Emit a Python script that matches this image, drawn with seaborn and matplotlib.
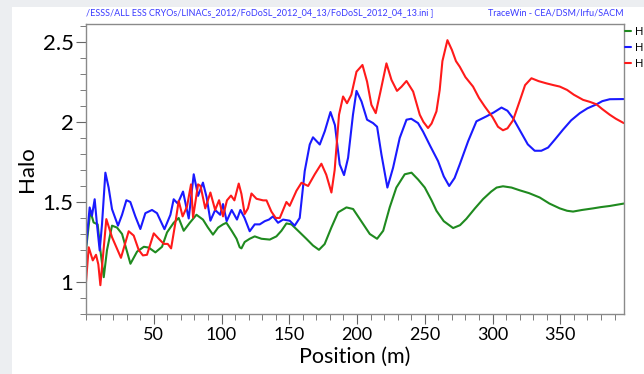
import numpy as np
import pandas as pd
import seaborn as sns
import matplotlib
matplotlib.use("Agg")
import matplotlib.pyplot as plt
from matplotlib.patches import Rectangle
from matplotlib.ticker import MultipleLocator

# ---- data ----
blue_x = [0, 2.7, 4.4, 6.4, 8.1, 10.1, 11.8, 14.3, 16.7, 19.2, 23.6, 26.6, 29.8, 32.7, 36.4,
          40.1, 43.8, 48.7, 52.4, 57.9, 62.3, 64.7, 67.7, 71.6, 75.8, 79.5, 82.7, 86.3, 89,
          91.8, 95.3, 99, 101.1, 103.8, 107.5, 111.4, 113.9, 117, 120.8, 124.5, 128.2, 131.9,
          135, 138, 141.7, 145.4, 150.3, 154, 157.7, 161.4, 165.1, 167.5, 172.5, 176.2, 180.4,
          183.7, 187.2, 190.4, 193.4, 197, 199.6, 203.3, 207.4, 211.8, 214.8, 218, 222.4,
          226.6, 231.5, 236.5, 240, 245, 248.7, 254, 259.8, 264, 268, 272, 275.8, 282, 288.1,
          295.5, 301, 306.6, 311, 315.1, 320, 326, 331.1, 336, 341, 346, 352, 358, 364.4, 370,
          376.7, 381, 386.5, 396.7]
blue_y = [1.22, 1.466, 1.414, 1.517, 1.36, 1.197, 1.36, 1.683, 1.59, 1.455, 1.352, 1.42, 1.511,
          1.50, 1.41, 1.331, 1.43, 1.45, 1.43, 1.33, 1.42, 1.517, 1.49, 1.565, 1.397, 1.673,
          1.538, 1.621, 1.53, 1.383, 1.45, 1.42, 1.487, 1.38, 1.45, 1.39, 1.45, 1.40, 1.317,
          1.36, 1.36, 1.38, 1.39, 1.41, 1.37, 1.39, 1.383, 1.352, 1.40, 1.693, 1.859, 1.904,
          1.859, 1.942, 2.062, 1.98, 1.735, 1.668, 1.776, 2.045, 2.194, 2.128, 2.014, 1.993,
          1.97, 1.797, 1.59, 1.714, 1.90, 2.014, 2.02, 1.993, 1.94, 1.85, 1.755, 1.66, 1.60,
          1.65, 1.735, 1.88, 2.004, 2.035, 2.06, 2.09, 2.07, 2.024, 1.95, 1.86, 1.82, 1.82,
          1.84, 1.89, 1.952, 2.01, 2.055, 2.085, 2.11, 2.13, 2.142, 2.143]

red_x = [0, 2, 5, 7.4, 9.1, 10.6, 15, 19.2, 25.8, 31.5, 35.2, 38.9, 42, 45, 50, 53.7, 57.4,
         60.3, 62.8, 66, 68.4, 71.3, 74.5, 77.5, 79, 82.7, 84.5, 88, 91.8, 95.3, 98.2, 101.1,
         104, 107, 109.5, 112.7, 114.7, 117.1, 119.5, 122.1, 125.8, 130.7, 133.2, 136.8, 140,
         143, 147.9, 150.3, 155.3, 159, 163.9, 168.8, 173.7, 177.3, 181.1, 183.5, 186.7, 189.7,
         192.6, 195.8, 199.6, 204, 207.4, 210.6, 213.8, 217.3, 221.7, 225.4, 229.5, 232.8,
         236.5, 241.4, 246.3, 249, 252.4, 255, 258.6, 261, 263, 266.7, 270, 273, 275.8, 280,
         285.6, 290, 294.2, 300, 304, 307.7, 311, 315.1, 320, 324, 328.7, 334, 339.8, 345,
         349.6, 355, 360, 366.8, 372, 376.7, 381, 386.5, 391, 396.8]
red_y = [1.0, 1.217, 1.135, 1.17, 1.11, 0.98, 1.393, 1.28, 1.151, 1.317, 1.29, 1.20, 1.166,
         1.17, 1.304, 1.27, 1.238, 1.238, 1.21, 1.372, 1.507, 1.41, 1.47, 1.61, 1.403, 1.61,
         1.60, 1.46, 1.559, 1.45, 1.511, 1.41, 1.51, 1.54, 1.51, 1.615, 1.55, 1.425, 1.46,
         1.553, 1.52, 1.51, 1.51, 1.44, 1.40, 1.40, 1.50, 1.476, 1.57, 1.62, 1.60, 1.673,
         1.739, 1.67, 1.559, 1.70, 2.045, 2.159, 2.117, 2.17, 2.314, 2.356, 2.252, 2.107,
         2.055, 2.19, 2.366, 2.263, 2.194, 2.22, 2.256, 2.19, 2.045, 2.0, 1.962, 1.99, 2.066,
         2.2, 2.38, 2.511, 2.45, 2.38, 2.345, 2.28, 2.221, 2.15, 2.097, 2.03, 1.97, 1.948,
         1.96, 2.01, 2.13, 2.23, 2.273, 2.255, 2.241, 2.23, 2.221, 2.20, 2.17, 2.138, 2.125,
         2.11, 2.08, 2.045, 2.02, 1.993]

green_x = [0, 3.2, 5.6, 8.6, 10.6, 13.1, 15.5, 19.2, 22.9, 26.6, 32.8, 37.7, 42.7, 46.3, 51.2,
           56.1, 59.8, 64.7, 68.4, 72.1, 76.6, 81.5, 86.3, 90, 93.7, 97.5, 101.1, 103.6, 107.5,
           111.1, 113.4, 114.7, 117.1, 120.8, 124.5, 129.5, 135.6, 140.5, 144.2, 147.9, 151.6,
           156.4, 162.6, 167.5, 171.9, 176.1, 181.1, 186, 192.2, 197.1, 202, 209.4, 214.8,
           219.3, 224.1, 229, 235.2, 240.2, 245.1, 250, 255, 258.6, 264, 270.9, 276, 280.7, 287,
           293, 299, 303, 307.7, 314, 320, 327, 334.8, 342, 349.6, 355, 359.4, 366, 374.2, 380,
           386.5, 396.8]
green_y = [1.2, 1.445, 1.372, 1.36, 1.20, 1.03, 1.20, 1.352, 1.34, 1.30, 1.114, 1.19, 1.22,
           1.215, 1.185, 1.22, 1.31, 1.37, 1.40, 1.32, 1.37, 1.42, 1.39, 1.34, 1.296, 1.34,
           1.36, 1.37, 1.32, 1.27, 1.217, 1.21, 1.25, 1.27, 1.285, 1.27, 1.265, 1.285, 1.32,
           1.366, 1.36, 1.321, 1.27, 1.228, 1.201, 1.237, 1.341, 1.435, 1.466, 1.456, 1.394,
           1.30, 1.27, 1.32, 1.466, 1.59, 1.673, 1.683, 1.64, 1.59, 1.51, 1.445, 1.38, 1.337,
           1.355, 1.395, 1.46, 1.518, 1.565, 1.59, 1.598, 1.59, 1.573, 1.555, 1.528, 1.49,
           1.46, 1.445, 1.44, 1.45, 1.46, 1.468, 1.475, 1.49]

labels = ["H", "H", "H"]
colors = ["#1f8a1f", "#1a1aff", "#ff1a1a"]
x_ticks = [50, 100, 150, 200, 250, 300, 350]
y_ticks = [1, 1.5, 2, 2.5]
y_ticklabels = ["1", "1.5", "2", "2.5"]

# ---- figure ----
sns.set_style("white")
plt.rcParams['font.family'] = ['Lato', 'DejaVu Sans']
plt.rcParams['text.color'] = 'black'
plt.rcParams['axes.labelcolor'] = 'black'
plt.rcParams['xtick.color'] = 'black'
plt.rcParams['ytick.color'] = 'black'

fig = plt.figure(figsize=(6.44, 3.74), dpi=100, facecolor="#eceef1")
bg = Rectangle((12 / 644, 0), 1, 1 - 7 / 374, transform=fig.transFigure,
               facecolor="white", edgecolor="none", zorder=-10)
fig.add_artist(bg)
ax = fig.add_axes([86 / 644, 1 - 314 / 374, (624 - 86) / 644, (314 - 24) / 374])
ax.set_zorder(1)
ax.set_facecolor("white")

series = [(green_x, green_y), (blue_x, blue_y), (red_x, red_y)]
for (xs, ys), lab, col in zip(series, labels, colors):
    df = pd.DataFrame({"Position": xs, "Halo": ys})
    sns.lineplot(data=df, x="Position", y="Halo", ax=ax, color=col, lw=1.5,
                 label=lab, sort=False, estimator=None)

ax.set_xlim(0, 397)
ax.set_ylim(0.8, 2.612)
ax.set_xticks(x_ticks)
ax.set_yticks(y_ticks)
ax.set_yticklabels(y_ticklabels)
ax.xaxis.set_minor_locator(MultipleLocator(10))
ax.yaxis.set_minor_locator(MultipleLocator(0.1))
for s in ax.spines.values():
    s.set_color("#8a8a8a")
    s.set_linewidth(1.0)
ax.tick_params(axis="both", which="both", direction="out", color="#666666", bottom=True,
               left=True)
ax.tick_params(axis="x", which="major", length=7, labelsize=13, pad=2)
ax.tick_params(axis="x", which="minor", length=4)
ax.tick_params(axis="y", which="major", length=7, labelsize=16, pad=2)
ax.tick_params(axis="y", which="minor", length=4)
ax.set_xlabel("Position (m)", fontsize=15.5, labelpad=3)
ax.set_ylabel("Halo", fontsize=16, labelpad=4)

ax.get_legend().remove()
handles, labs = ax.get_legend_handles_labels()
fig.legend(handles, labs, loc="upper left", bbox_to_anchor=(625 / 644, 1 - 26 / 374),
           frameon=False, fontsize=8, handlelength=0.5, handletextpad=0.4,
           labelspacing=0.45, borderaxespad=0.0, borderpad=0.0)

fig.text(86 / 644, 1 - 13 / 374,
         "/ESSS/ALL ESS CRYOs/LINACs_2012/FoDoSL_2012_04_13/FoDoSL_2012_04_13.ini ]",
         color="#3a3aff", fontsize=6.5, ha="left", va="center")
fig.text(624 / 644, 1 - 13 / 374, "TraceWin - CEA/DSM/Irfu/SACM",
         color="#3a3aff", fontsize=6.5, ha="right", va="center")

fig.savefig("out.png", dpi=100, facecolor=fig.get_facecolor())
